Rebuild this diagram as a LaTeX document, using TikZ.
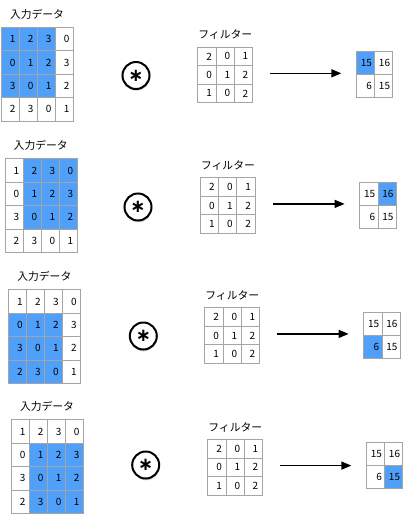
\documentclass[tikz,border=0pt]{standalone}
\usepackage{fontspec}
\setmainfont{Noto Sans CJK JP}
\newfontfamily\symfont{DejaVu Sans}
\usetikzlibrary{arrows.meta,shadows}
\definecolor{cblue}{RGB}{80,160,250}
\definecolor{cgray}{RGB}{165,165,165}
\tikzset{
  gridcell/.style={draw=cgray, line width=0.9pt, inner xsep=0pt, inner ysep=0pt,
    anchor=north west, align=right, font=\fontsize{10}{10}\selectfont},
  incell/.style={gridcell, minimum width=18pt, minimum height=23.4pt, text width=10pt},
  fcell/.style={gridcell, minimum width=18.2pt, minimum height=18.5pt, text width=10pt},
  ocell/.style={gridcell, minimum width=18.2pt, minimum height=23pt, text width=12.6pt},
  ttl/.style={inner sep=0pt, font=\fontsize{10.8}{11}\selectfont},
  convop/.style={circle, draw=black, line width=2pt, fill=white, minimum size=27pt,
    inner sep=0pt, drop shadow={shadow xshift=0.4pt, shadow yshift=-1.8pt, opacity=0.35},
    font=\symfont\bfseries\fontsize{18}{18}\selectfont},
  convarr/.style={line width=1.5pt, -{Triangle[length=10pt,width=8pt]},
    shorten <=17pt, shorten >=14.7pt}
}
\newcommand\ingrid[5]{%
  \node[ttl] (#1-ittl) at (#2+36, #3-12.5) {入力データ};
  \foreach \rr in {0,...,3}{\foreach \cc in {0,...,3}{
    \pgfmathtruncatemacro\vv{{1,2,3,0,0,1,2,3,3,0,1,2,2,3,0,1}[4*\rr+\cc]}
    \pgfmathtruncatemacro\sh{(\rr>=#4)&&(\rr<=#4+2)&&(\cc>=#5)&&(\cc<=#5+2)}
    \ifnum\sh=1 \def\cf{cblue}\else\def\cf{white}\fi
    \node[incell, fill=\cf] (#1-i-\rr-\cc) at (#2+18*\cc, #3+23.4*\rr) {\vv};
  }}%
}
\newcommand\filt[3]{%
  \node[ttl] (#1-fttl) at (#2+28, #3-11.7) {フィルター};
  \foreach \rr in {0,1,2}{\foreach \cc in {0,1,2}{
    \pgfmathtruncatemacro\vv{{2,0,1,0,1,2,1,0,2}[3*\rr+\cc]}
    \node[fcell, fill=white] (#1-f-\rr-\cc) at (#2+18.2*\cc, #3+18.5*\rr) {\vv};
  }}%
}
\newcommand\outgrid[5]{%
  \foreach \rr in {0,1}{\foreach \cc in {0,1}{
    \pgfmathtruncatemacro\vv{{15,16,6,15}[2*\rr+\cc]}
    \pgfmathtruncatemacro\sh{(\rr==#4)&&(\cc==#5)}
    \ifnum\sh=1 \def\cf{cblue}\else\def\cf{white}\fi
    \node[ocell, fill=\cf] (#1-o-\rr-\cc) at (#2+18.2*\cc, #3+23*\rr) {\vv};
  }}%
}
\newcommand\opsym[3]{%
  \node[convop] (#1-op) at (#2,#3) {\raisebox{-2.9pt}{∗}};
}
\newcommand\convarrow[1]{%
  \coordinate (#1-as) at ([yshift=1.6pt]#1-f-1-2.east);
  \draw[convarr] (#1-as) -- (#1-as -| #1-o-0-0.west);
}
\begin{document}
\begin{tikzpicture}[x=1pt,y=-1pt]
\useasboundingbox[fill=white] (0,0) rectangle (405,515);
% panel 1
\ingrid{a}{1}{27}{0}{0}
\opsym{a}{136}{75.5}
\filt{a}{197.3}{46.7}
\outgrid{a}{356}{51}{0}{0}
\convarrow{a}
% panel 2
\ingrid{b}{4.7}{158.3}{0}{1}
\opsym{b}{138}{207}
\filt{b}{200}{177.3}
\outgrid{b}{359.3}{181.7}{0}{1}
\convarrow{b}
% panel 3
\ingrid{c}{8.3}{289.3}{1}{0}
\opsym{c}{143.3}{336}
\filt{c}{204.3}{307.3}
\outgrid{c}{363.3}{312.3}{1}{0}
\convarrow{c}
% panel 4
\ingrid{d}{11}{419.3}{1}{1}
\opsym{d}{145.7}{465}
\filt{d}{207.3}{439}
\outgrid{d}{366}{441.7}{1}{1}
\convarrow{d}
\end{tikzpicture}
\end{document}
